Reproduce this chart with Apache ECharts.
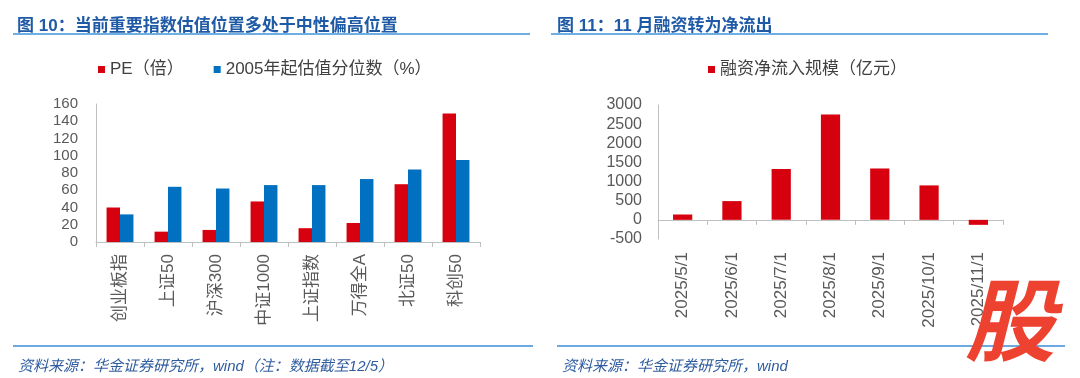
<!DOCTYPE html>
<html>
<head>
<meta charset="utf-8">
<script src="https://cdn.jsdelivr.net/npm/echarts@6/dist/echarts.min.js"></script>
<style>
  html, body { margin: 0; padding: 0; background: #fff; }
  #main { width: 1080px; height: 378px; }
</style>
</head>
<body>
<div id="main"></div>
<script>
// 图10 数据
var indexNames = ["创业板指", "上证50", "沪深300", "中证1000", "上证指数", "万得全A", "北证50", "科创50"]
var peValues = [40, 12, 14, 47, 16, 22, 67, 149]
var pctValues = [32, 64, 62, 66, 66, 73, 84, 95]
// 图11 数据
var months = ["2025/5/1", "2025/6/1", "2025/7/1", "2025/8/1", "2025/9/1", "2025/10/1", "2025/11/1"]
var netInflow = [140, 490, 1330, 2750, 1340, 900, -130]

var RED = "#D7000F", BLUE = "#0070C0"
var FONT = "Liberation Sans, Noto Sans CJK SC, sans-serif"
var TITLE_C = "#1F5AA6", FOOT_C = "#2E5C9E", AXIS_C = "#BFBFBF", LABEL_C = "#595959"

var chart = echarts.init(document.getElementById("main"))

function axisY(gridIndex, min, max, interval, margin, size) {
  return {
    type: "value", gridIndex: gridIndex, min: min, max: max, interval: interval,
    axisLine: { show: true, lineStyle: { color: AXIS_C } },
    axisTick: { show: false },
    splitLine: { show: false },
    axisLabel: { color: LABEL_C, fontSize: size, fontFamily: FONT, margin: margin,
                 formatter: function (v) { return String(v) } }
  }
}
function axisX(gridIndex, data, margin, size) {
  return {
    type: "category", gridIndex: gridIndex, data: data,
    axisLine: { lineStyle: { color: AXIS_C } },
    axisTick: { show: true, length: 5, lineStyle: { color: AXIS_C } },
    axisLabel: { color: LABEL_C, fontSize: size, fontFamily: FONT, rotate: 90, margin: margin, interval: 0 }
  }
}

var option = {
  animation: false,
  textStyle: { fontFamily: FONT },
  title: [
    { text: "图 10：当前重要指数估值位置多处于中性偏高位置", left: 12, top: 13,
      textStyle: { color: TITLE_C, fontSize: 17, fontWeight: "bold", fontFamily: FONT } },
    { text: "图 11：11 月融资转为净流出", left: 552, top: 13,
      textStyle: { color: TITLE_C, fontSize: 17, fontWeight: "bold", fontFamily: FONT } },
    { text: "资料来源：华金证券研究所，wind（注：数据截至12/5）", left: 13, top: 354,
      textStyle: { color: FOOT_C, fontSize: 15, fontStyle: "italic", fontWeight: "normal", fontFamily: FONT } },
    { text: "资料来源：华金证券研究所，wind", left: 557, top: 354,
      textStyle: { color: FOOT_C, fontSize: 15, fontStyle: "italic", fontWeight: "normal", fontFamily: FONT } }
  ],
  legend: [
    { data: ["PE（倍）", "2005年起估值分位数（%）"], left: 93, top: 56,
      itemWidth: 7, itemHeight: 7, itemGap: 30, icon: "rect",
      textStyle: { color: "#404040", fontSize: 17, fontFamily: FONT } },
    { data: ["融资净流入规模（亿元）"], left: 703, top: 56,
      itemWidth: 7, itemHeight: 7, icon: "rect",
      textStyle: { color: "#404040", fontSize: 17, fontFamily: FONT } }
  ],
  grid: [
    { left: 96, top: 104, width: 384, height: 138 },
    { left: 658, top: 105, width: 345, height: 134 }
  ],
  xAxis: [axisX(0, indexNames, 12, 17), axisX(1, months, 13, 17)],
  yAxis: [axisY(0, 0, 160, 20, 18, 15), axisY(1, -500, 3000, 500, 16, 16)],
  series: [
    { name: "PE（倍）", type: "bar", xAxisIndex: 0, yAxisIndex: 0, data: peValues,
      itemStyle: { color: RED }, barGap: "0%", barCategoryGap: "44%" },
    { name: "2005年起估值分位数（%）", type: "bar", xAxisIndex: 0, yAxisIndex: 0, data: pctValues,
      itemStyle: { color: BLUE }, barGap: "0%", barCategoryGap: "44%" },
    { name: "融资净流入规模（亿元）", type: "bar", xAxisIndex: 1, yAxisIndex: 1, data: netInflow,
      itemStyle: { color: RED }, barCategoryGap: "61%" }
  ],
  graphic: [
    { type: "line", shape: { x1: 13, y1: 34, x2: 530, y2: 34 }, style: { stroke: "#6FAEE3", lineWidth: 2 } },
    { type: "line", shape: { x1: 551, y1: 34, x2: 1048, y2: 34 }, style: { stroke: "#6FAEE3", lineWidth: 2 } },
    { type: "line", shape: { x1: 13, y1: 346, x2: 533, y2: 346 }, style: { stroke: "#3C8DD6", lineWidth: 1.5 } },
    { type: "line", shape: { x1: 557, y1: 346, x2: 1065, y2: 346 }, style: { stroke: "#3C8DD6", lineWidth: 1.5 } },
    // 右下角水印
    { type: "text", left: 965, top: 275, z: 100,
      style: { text: "股", fill: "#EE4230", fontSize: 90, fontWeight: "bold", fontStyle: "italic",
               fontFamily: "Noto Sans CJK SC" } }
  ]
}
chart.setOption(option)
</script>
</body>
</html>
